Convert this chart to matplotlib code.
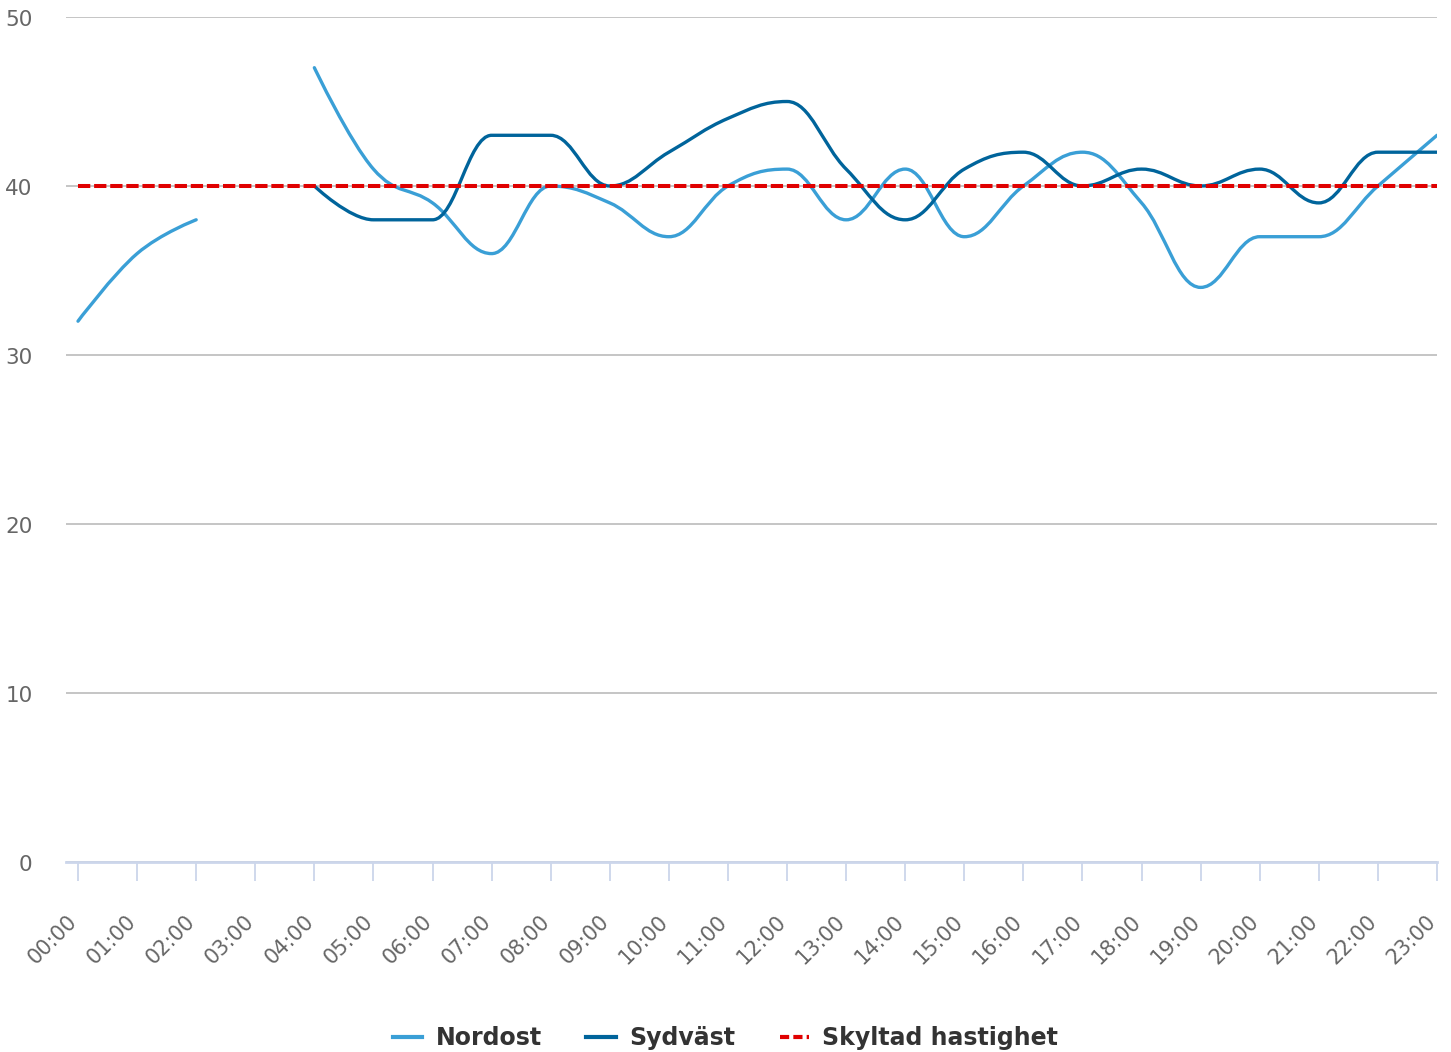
import numpy as np
import matplotlib.pyplot as plt
import matplotlib.transforms as mtrans
from matplotlib.path import Path
from matplotlib.patches import PathPatch
from matplotlib.lines import Line2D

#------------------------------------------------------------------------------#

hours    = [f"{h:02d}:00" for h in range(24)]
nordost  = [32, 36, 38, None, 47, 41, 39, 36, 40, 39, 37, 40,
            41, 38, 41, 37, 40, 42, 39, 34, 37, 37, 40, 43]
sydvast  = [None, None, None, None, 40, 38, 38, 43, 43, 40, 42, 44,
            45, 41, 38, 41, 42, 40, 41, 40, 41, 39, 42, 42]
skyltad  = [40] * 24

colNordost = "#3a9fd6"
colSydvast = "#00649b"
colSkyltad = "#e00000"

#------------------------------------------------------------------------------#

def spline_path(xs: list, ys: list) -> list[Path]:
    # Highcharts style spline, split on missing values
    smoothing = 1.5
    denom     = smoothing + 1
    paths     = []
    seg       = []

    for x, y in zip(xs, ys):
        if y is None:
            if seg:
                paths.append(seg)
            seg = []
        else:
            seg.append((x, y))
    if seg:
        paths.append(seg)

    out = []
    for seg in paths:
        n     = len(seg)
        left  = [None]*n
        right = [None]*n
        for i in range(n):
            px, py = seg[i]
            if 0 < i < n - 1:
                lx, ly = seg[i - 1]
                nx, ny = seg[i + 1]
                lcx = (smoothing*px + lx)/denom
                lcy = (smoothing*py + ly)/denom
                rcx = (smoothing*px + nx)/denom
                rcy = (smoothing*py + ny)/denom
                if rcx != lcx:
                    corr = ((rcy - lcy)*(rcx - px))/(rcx - lcx) + py - rcy
                    lcy += corr
                    rcy += corr
                if lcy > ly and lcy > py:
                    lcy = max(ly, py)
                    rcy = 2*py - lcy
                elif lcy < ly and lcy < py:
                    lcy = min(ly, py)
                    rcy = 2*py - lcy
                if rcy > ny and rcy > py:
                    rcy = max(ny, py)
                    lcy = 2*py - rcy
                elif rcy < ny and rcy < py:
                    rcy = min(ny, py)
                    lcy = 2*py - rcy
                left[i]  = (lcx, lcy)
                right[i] = (rcx, rcy)
            else:
                left[i]  = (px, py)
                right[i] = (px, py)

        verts = [seg[0]]
        codes = [Path.MOVETO]
        for i in range(1, n):
            verts += [right[i - 1], left[i], seg[i]]
            codes += [Path.CURVE4]*3
        out.append(Path(verts, codes))

    return out

#------------------------------------------------------------------------------#

fig = plt.figure(figsize=(14.51, 10.52), dpi=100)
ax  = fig.add_axes([66/1451, 1 - 862/1052, (1437 - 66)/1451, (862 - 17)/1052])

x = np.arange(len(hours))

for series, col in [(nordost, colNordost), (sydvast, colSydvast)]:
    for p in spline_path(x, series):
        ax.add_patch(PathPatch(p, facecolor="none", edgecolor=col, lw=2.4,
                               capstyle="round", zorder=3))

ax.plot(x, skyltad, color=colSkyltad, lw=2.9, dashes=(3.05, 0.95), zorder=4)

ax.set_xlim(-12/59.1, 23)
ax.set_ylim(0, 50)
ax.set_yticks([0, 10, 20, 30, 40, 50])
ax.set_xticks(x)
ax.set_xticklabels(hours, rotation=45, ha="right", va="center",
                   rotation_mode="anchor")

ax.grid(axis="y", color="#c0c0c0", lw=1.3)
ax.set_axisbelow(True)
for side in ["left", "right", "top"]:
    ax.spines[side].set_visible(False)
ax.spines["bottom"].set_color("#ccd6eb")
ax.spines["bottom"].set_linewidth(2)

ax.tick_params(axis="y", length=0, pad=24, labelsize=15.5, labelcolor="#666666")
ax.tick_params(axis="x", length=13.7, width=1.3, color="#ccd6eb", pad=27,
               labelsize=15, labelcolor="#666666")

shiftY = mtrans.ScaledTranslation(0, -3/100, fig.dpi_scale_trans)
for lbl in ax.get_yticklabels():
    lbl.set_verticalalignment("center")
    lbl.set_transform(lbl.get_transform() + shiftY)

shiftX = mtrans.ScaledTranslation(-4/100, 0, fig.dpi_scale_trans)
for lbl in ax.get_xticklabels():
    lbl.set_transform(lbl.get_transform() + shiftX)

handles = [
    Line2D([], [], color=colNordost, lw=3),
    Line2D([], [], color=colSydvast, lw=3),
    Line2D([], [], color=colSkyltad, lw=3, dashes=(2.2, 1.0)),
]
leg = fig.legend(handles, ["Nordost", "Sydväst", "Skyltad hastighet"],
                 loc="center", bbox_to_anchor=(0.5, 1 - 1038/1052), ncol=3,
                 frameon=False, handlelength=1.25, handletextpad=0.55,
                 columnspacing=1.9,
                 prop={"weight": "bold", "size": 17})
for t in leg.get_texts():
    t.set_color("#333333")

fig.savefig("out.png", dpi=100)
